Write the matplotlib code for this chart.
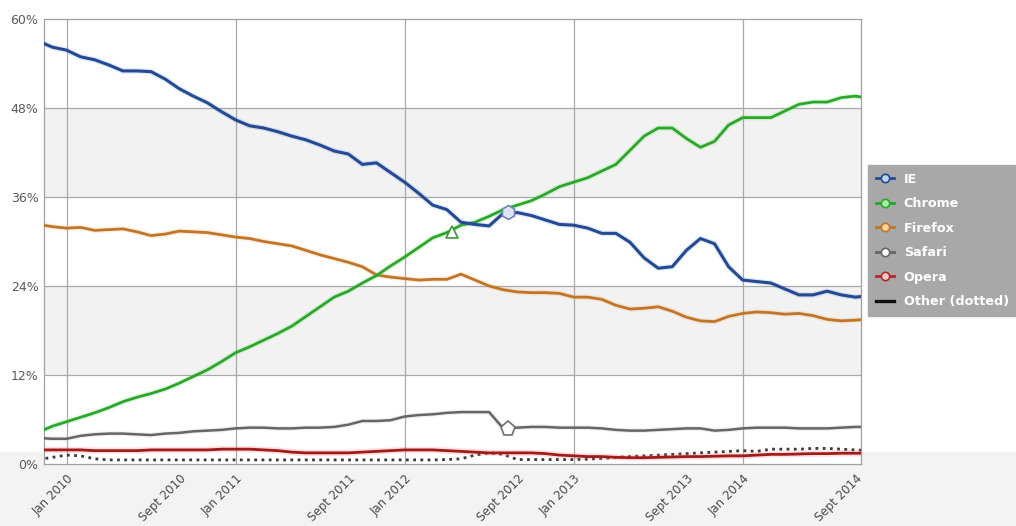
import numpy as np
import pandas as pd
import matplotlib
matplotlib.use("Agg")
import matplotlib.pyplot as plt
import matplotlib.patheffects as pe
from matplotlib.lines import Line2D
from matplotlib.patches import Rectangle

# ---------------- data (monthly, Nov 2009 .. Oct 2014) ----------------
months = pd.period_range("2009-11", "2014-10", freq="M")

ie = [57.0, 56.2, 55.8, 54.9, 54.5, 53.8, 53.0, 53.0, 52.9, 51.9,
      50.6, 49.6, 48.7, 47.5, 46.4, 45.6, 45.3, 44.8, 44.2, 43.7,
      43.0, 42.2, 41.8, 40.4, 40.6, 39.3, 38.0, 36.5, 34.9, 34.3,
      32.6, 32.3, 32.1, 33.8, 33.9, 33.5, 32.9, 32.3, 32.2, 31.8,
      31.1, 31.1, 29.9, 27.8, 26.4, 26.6, 28.8, 30.4, 29.7, 26.6,
      24.8, 24.6, 24.4, 23.6, 22.8, 22.8, 23.3, 22.8, 22.5, 22.7]

chrome = [4.3, 5.1, 5.7, 6.3, 6.9, 7.6, 8.4, 9.0, 9.5, 10.1,
          10.9, 11.8, 12.7, 13.8, 15.0, 15.8, 16.7, 17.6, 18.6, 19.9,
          21.2, 22.5, 23.3, 24.4, 25.4, 26.7, 27.9, 29.2, 30.5, 31.2,
          32.2, 32.6, 33.4, 34.3, 34.9, 35.5, 36.4, 37.4, 38.0, 38.6,
          39.5, 40.4, 42.3, 44.2, 45.3, 45.3, 43.9, 42.7, 43.5, 45.7,
          46.7, 46.7, 46.7, 47.6, 48.5, 48.8, 48.8, 49.4, 49.6, 49.3]

firefox = [32.3, 32.0, 31.8, 31.9, 31.5, 31.6, 31.7, 31.3, 30.8, 31.0,
           31.4, 31.3, 31.2, 30.9, 30.6, 30.4, 30.0, 29.7, 29.4, 28.8,
           28.2, 27.7, 27.2, 26.6, 25.5, 25.2, 25.0, 24.8, 24.9, 24.9,
           25.6, 24.8, 24.0, 23.5, 23.2, 23.1, 23.1, 23.0, 22.5, 22.5,
           22.2, 21.4, 20.9, 21.0, 21.2, 20.6, 19.8, 19.3, 19.2, 19.9,
           20.3, 20.5, 20.4, 20.2, 20.3, 20.0, 19.5, 19.3, 19.4, 19.5]

safari = [3.5, 3.4, 3.4, 3.8, 4.0, 4.1, 4.1, 4.0, 3.9, 4.1,
          4.2, 4.4, 4.5, 4.6, 4.8, 4.9, 4.9, 4.8, 4.8, 4.9,
          4.9, 5.0, 5.3, 5.8, 5.8, 5.9, 6.4, 6.6, 6.7, 6.9,
          7.0, 7.0, 7.0, 4.8, 4.9, 5.0, 5.0, 4.9, 4.9, 4.9,
          4.8, 4.6, 4.5, 4.5, 4.6, 4.7, 4.8, 4.8, 4.5, 4.6,
          4.8, 4.9, 4.9, 4.9, 4.8, 4.8, 4.8, 4.9, 5.0, 5.0]

opera = [1.9, 1.9, 1.9, 1.9, 1.8, 1.8, 1.8, 1.8, 1.9, 1.9,
         1.9, 1.9, 1.9, 2.0, 2.0, 2.0, 1.9, 1.8, 1.6, 1.5,
         1.5, 1.5, 1.5, 1.6, 1.7, 1.8, 1.9, 1.9, 1.9, 1.8,
         1.7, 1.6, 1.5, 1.5, 1.5, 1.5, 1.4, 1.2, 1.1, 1.0,
         1.0, 0.9, 0.85, 0.85, 0.9, 0.95, 1.0, 1.0, 1.05, 1.1,
         1.1, 1.2, 1.3, 1.3, 1.35, 1.4, 1.4, 1.45, 1.45, 1.45]

other = [0.6, 0.9, 1.2, 1.1, 0.7, 0.55, 0.55, 0.55, 0.55, 0.55,
         0.55, 0.55, 0.55, 0.55, 0.55, 0.55, 0.55, 0.55, 0.55, 0.55,
         0.55, 0.55, 0.55, 0.55, 0.55, 0.55, 0.55, 0.55, 0.55, 0.6,
         0.7, 1.2, 1.5, 1.3, 0.6, 0.6, 0.6, 0.6, 0.6, 0.65,
         0.75, 0.9, 1.0, 1.1, 1.2, 1.3, 1.4, 1.5, 1.6, 1.7,
         1.8, 1.7, 2.0, 2.0, 2.0, 2.1, 2.1, 2.0, 1.9, 1.8]

tick_labels = ["Jan 2010", "Sept 2010", "Jan 2011", "Sept 2011", "Jan 2012",
               "Sept 2012", "Jan 2013", "Sept 2013", "Jan 2014", "Sept 2014"]
tick_months = ["2010-01", "2010-09", "2011-01", "2011-09", "2012-01",
               "2012-09", "2013-01", "2013-09", "2014-01", "2014-09"]
year_starts = ["2010-01", "2011-01", "2012-01", "2013-01", "2014-01"]

# highlighted hover markers: (month position, value)
hover_chrome = (27.35, 31.3)
hover_ie = (31.35, 34.0)
hover_safari = (31.35, 4.7)

series_names = ["IE", "Chrome", "Firefox", "Safari", "Opera", "Other (dotted)"]

# ---------------- helpers ----------------
base = pd.Period("2010-01", freq="M")
def mpos(p):
    return (pd.Period(p, freq="M") - base).n
x = np.array([(p - base).n for p in months], dtype=float)

# ---------------- figure ----------------
W, H = 1016, 526
fig = plt.figure(figsize=(W / 100, H / 100), dpi=100, facecolor="white")
fig.patches.append(Rectangle((0, 0), 1, 1 - 452 / H, transform=fig.transFigure,
                             facecolor="#f2f3f5", edgecolor="none", zorder=-10))

ax = fig.add_axes([44 / W, 1 - 464 / H, (861 - 44) / W, (464 - 19) / H])
ax.set_facecolor("white")
ax.set_xlim(-1.6, 56.4)
ax.set_ylim(0, 60)

for lo, hi in [(12, 24), (36, 48)]:
    ax.axhspan(lo, hi, color="#f2f2f2", zorder=0, lw=0)

grid_c = "#a9a9a9"
for yv in [12, 24, 36, 48]:
    ax.axhline(yv, color=grid_c, lw=0.9, zorder=1)
for ys in year_starts:
    ax.axvline(mpos(ys), color=grid_c, lw=0.9, zorder=1)
for s in ax.spines.values():
    s.set_color("#a0a0a0")
    s.set_linewidth(0.9)

ax.set_yticks([0, 12, 24, 36, 48, 60])
ax.set_yticklabels(["0%", "12%", "24%", "36%", "48%", "60%"],
                   color="#5a5a5a", fontsize=9)
ax.set_xticks([mpos(t) for t in tick_months])
ax.set_xticklabels(tick_labels, rotation=45, ha="right", rotation_mode="anchor",
                   color="#4a4a4a", fontsize=8.5)
ax.tick_params(axis="both", length=0, pad=4)
ax.tick_params(axis="x", pad=6)

def glow(col, w):
    return [pe.Stroke(linewidth=w, foreground=col, alpha=0.22), pe.Normal()]

ax.plot(x, other, color="#3a3a3a", lw=2.0, ls=(0, (1, 1.6)), zorder=3,
        solid_capstyle="butt")
ax.plot(x, opera, color="#a01c1c", lw=2.0, zorder=4,
        path_effects=glow("#ff6b6b", 4.5))
ax.plot(x, safari, color="#666666", lw=1.8, zorder=4,
        path_effects=glow("#bbbbbb", 3.5))
ax.plot(x, firefox, color="#c07528", lw=2.0, zorder=5,
        path_effects=glow("#f0b070", 4))
ax.plot(x, chrome, color="#2da52d", lw=2.0, zorder=6,
        path_effects=glow("#66e066", 4))
ax.plot(x, ie, color="#234a92", lw=2.2, zorder=6,
        path_effects=glow("#6f95d8", 4))

ax.plot(*hover_chrome, marker="^", ms=9, mfc="white", mec="#3a9a3a", mew=1.2, zorder=8)
ax.plot(*hover_ie, marker="h", ms=10, mfc="#dde6f4", mec="#6f86b8", mew=1.2, zorder=8)
ax.plot(*hover_safari, marker="p", ms=11, mfc="white", mec="#707070", mew=1.2, zorder=8)

# legend
leg_cols = [("#234a92", "#bcd4f4"), ("#2da52d", "#a6eea6"), ("#c07528", "#f6d49a"),
            ("#666666", "#ffffff"), ("#b22a2a", "#f6c6c6"), ("#111111", None)]
handles = []
for (c, fc), name in zip(leg_cols, series_names):
    if fc is None:
        handles.append(Line2D([], [], color=c, lw=2.4))
    else:
        handles.append(Line2D([], [], color=c, lw=2.0, marker="o", ms=6,
                              mfc=fc, mec=c, mew=1.2))
leg = fig.legend(handles=handles, labels=series_names, loc="upper left",
                 bbox_to_anchor=(868 / W, 1 - 165 / H), borderaxespad=0,
                 frameon=True, fancybox=False, facecolor="#a8a8a8",
                 edgecolor="#a8a8a8", framealpha=1, labelcolor="white",
                 prop={"weight": "bold", "size": 9.2}, labelspacing=0.9,
                 handlelength=1.4, handletextpad=0.8, borderpad=0.6)

fig.savefig("out.png", dpi=100, facecolor=fig.get_facecolor())
